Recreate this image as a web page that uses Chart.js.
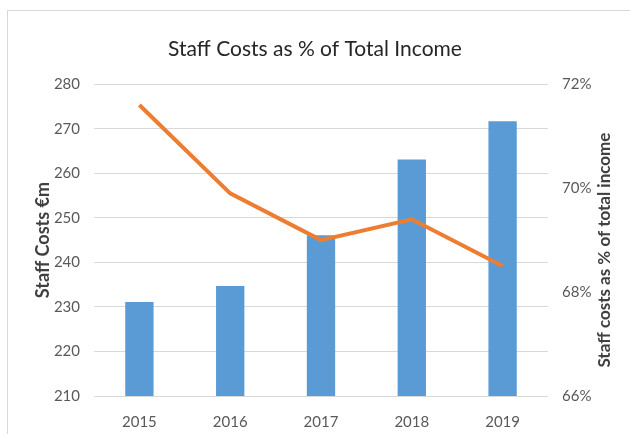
<!DOCTYPE html>
<html>
<head>
<meta charset="utf-8">
<script src="https://cdn.jsdelivr.net/npm/chart.js@4.4.1/dist/chart.umd.min.js"></script>
<style>
  html, body { margin: 0; padding: 0; background: #fff; }
  #wrap { position: relative; width: 630px; height: 434px; }
</style>
</head>
<body>
<div id="wrap"><canvas id="staffChart" width="630" height="434"></canvas></div>
<script>
// Datos
const years = ['2015', '2016', '2017', '2018', '2019'];
const staffCosts = [231.1, 234.7, 246.1, 263.1, 271.7];   // €m
const staffPct = [71.6, 69.9, 69.0, 69.4, 68.5];          // % del ingreso total
const costTicks = { min: 210, max: 280, step: 10 };
const pctTicks = { min: 66, max: 72, step: 2 };

const FONT = 'Lato, "Open Sans", sans-serif';

// marco gris y título del eje derecho (se lee de abajo hacia arriba)
const framePlugin = {
  id: 'frame',
  beforeDraw(chart) {
    const ctx = chart.ctx;
    ctx.save();
    ctx.strokeStyle = '#d9d9d9';
    ctx.lineWidth = 1;
    ctx.strokeRect(7.5, 10.5, 700, 500);
    ctx.restore();
  },
  afterDraw(chart) {
    const ctx = chart.ctx;
    const area = chart.chartArea;
    ctx.save();
    ctx.translate(605, (area.top + area.bottom) / 2 + 10);
    ctx.rotate(-Math.PI / 2);
    ctx.font = 'bold 17px ' + FONT;
    ctx.fillStyle = '#404040';
    ctx.textAlign = 'center';
    ctx.textBaseline = 'middle';
    ctx.fillText('Staff costs as % of total income', 0, 0);
    ctx.restore();
  }
};

new Chart(document.getElementById('staffChart'), {
  data: {
    labels: years,
    datasets: [
      {
        type: 'line',
        label: 'Staff costs %',
        data: staffPct,
        yAxisID: 'yPct',
        borderColor: '#ED7D31',
        borderWidth: 4,
        pointRadius: 0,
        tension: 0,
        order: 0
      },
      {
        type: 'bar',
        label: 'Staff costs €m',
        data: staffCosts,
        yAxisID: 'yCost',
        backgroundColor: '#5B9BD5',
        barPercentage: 0.312,
        categoryPercentage: 1,
        order: 1
      }
    ]
  },
  options: {
    responsive: false,
    animation: false,
    layout: { padding: { top: 37, left: 0, right: 0, bottom: 0 } },
    plugins: {
      legend: { display: false },
      tooltip: { enabled: false },
      title: {
        display: true,
        text: 'Staff Costs as % of Total Income',
        color: '#262626',
        font: { family: FONT, size: 21, weight: 'normal' },
        padding: { top: 0, bottom: 22 }
      }
    },
    scales: {
      x: {
        offset: true,
        grid: { display: false },
        border: { display: false },
        ticks: { color: '#595959', font: { family: FONT, size: 15 }, padding: 9 },
        afterFit(scale) { scale.height = 38; }
      },
      yCost: {
        position: 'left',
        min: costTicks.min,
        max: costTicks.max,
        ticks: { stepSize: costTicks.step, color: '#595959', font: { family: FONT, size: 15 }, padding: 14 },
        grid: { color: '#d9d9d9', drawTicks: false },
        border: { display: false },
        title: {
          display: true,
          text: 'Staff Costs €m',
          color: '#404040',
          font: { family: FONT, size: 18, weight: 'bold' },
          padding: { top: 32, bottom: 0 }
        },
        afterFit(scale) { scale.width = 94; }
      },
      yPct: {
        position: 'right',
        min: pctTicks.min,
        max: pctTicks.max,
        ticks: {
          stepSize: pctTicks.step,
          color: '#595959',
          font: { family: FONT, size: 15 },
          padding: 14,
          callback: v => v + '%'
        },
        grid: { display: false, drawTicks: false },
        border: { display: false },
        afterFit(scale) { scale.width = 82; }
      }
    }
  },
  plugins: [framePlugin]
});
</script>
</body>
</html>
